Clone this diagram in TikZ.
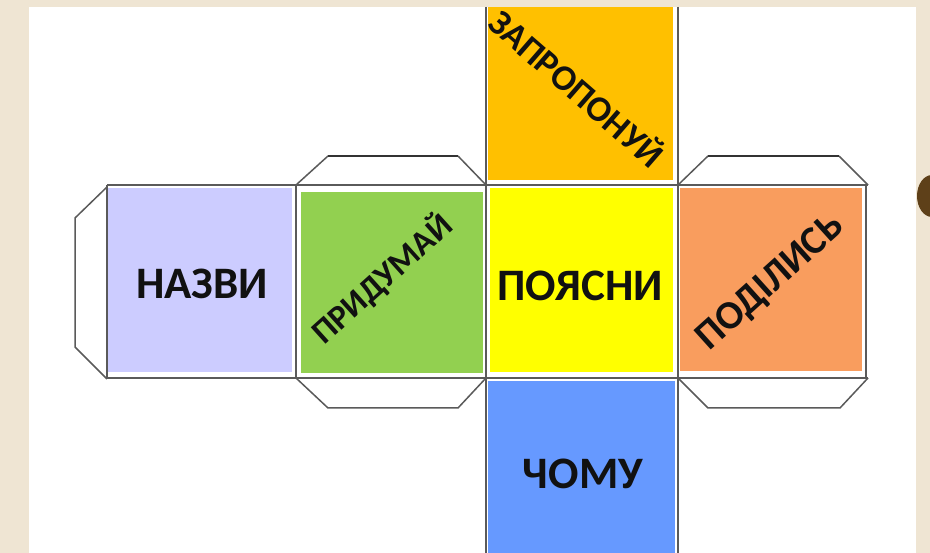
\documentclass[tikz,border=0pt]{standalone}
\usepackage{fontspec}
\setmainfont{Carlito}
\definecolor{bgbeige}{HTML}{EFE5D3}
\definecolor{edgegray}{HTML}{5A5A5A}
\definecolor{tabdark}{HTML}{333333}
\definecolor{clav}{HTML}{CCCCFF}
\definecolor{cgreen}{HTML}{92D050}
\definecolor{corange}{HTML}{FFC000}
\definecolor{cyellow}{HTML}{FFFF00}
\definecolor{csalmon}{HTML}{F99D5E}
\definecolor{cblue}{HTML}{6699FF}
\definecolor{blob}{HTML}{5E4019}
\definecolor{txt}{HTML}{111111}
\tikzset{
  lbl/.style={font=\bfseries\fontsize{45}{45}\selectfont, text=txt, inner sep=0pt},
  dlbl/.style={font=\bfseries\fontsize{34}{34}\selectfont, text=txt, inner sep=0pt},
  grid/.style={draw=edgegray, line width=1.9pt},
  tabline/.style={draw=edgegray, line width=1.5pt, line join=round},
  tabtop/.style={draw=tabdark, line width=2.4pt}
}
\begin{document}
\begin{tikzpicture}[x=1pt,y=-1pt]
\path[use as bounding box] (0,0) rectangle (930,553);
% background
\fill[bgbeige] (0,0) rectangle (930,553);
\fill[blob] (932,196) ellipse[x radius=15, y radius=21];
\fill[white] (29,7) rectangle (916,553);
% face fills
\fill[clav]    (108,188) rectangle (292,372);
\fill[cgreen]  (301,192) rectangle (483,373);
\fill[corange] (488,7)   rectangle (673,180);
\fill[cyellow] (490,188) rectangle (673,372);
\fill[csalmon] (680,188) rectangle (862,371);
\fill[cblue]   (488,381) rectangle (675,553);
% tabs
\draw[tabline] (107,187) -- (75,218) -- (75,347) -- (107,379);
\draw[tabline] (296,185) -- (328,156);
\draw[tabline] (458,156) -- (486,185);
\draw[tabtop]  (328,156) -- (458,156);
\draw[tabline] (296,378) -- (328,408) -- (458,408) -- (486,378);
\draw[tabline] (678,185) -- (708,156);
\draw[tabline] (839,156) -- (868,185);
\draw[tabtop]  (708,156) -- (839,156);
\draw[tabline] (678,378) -- (708,408) -- (840,408) -- (868,378);
% grid lines
\draw[grid] (107,185) -- (868,185);
\draw[grid] (107,378) -- (868,378);
\draw[grid] (107,185) -- (107,379);
\draw[grid] (296,185) -- (296,378);
\draw[grid] (866,185) -- (866,378);
\draw[grid] (486,7) -- (486,553);
\draw[grid] (678,7) -- (678,553);
% labels
\node[lbl] (nazvy) at (202,284) {НАЗВИ};
\node[lbl] (poyasny) at (580,286) {ПОЯСНИ};
\node[lbl] (chomu) at (583,474) {ЧОМУ};
\node[dlbl, rotate=42] (prydumai) at (382,279) {ПРИДУМАЙ};
\node[dlbl, rotate=42, font=\bfseries\fontsize{40}{40}\selectfont] (podilys) at (771,283) {ПОДІЛИСЬ};
\node[dlbl, rotate=-41, font=\bfseries\fontsize{36}{36}\selectfont] (zaproponui) at (578,87) {ЗАПРОПОНУЙ};
\end{tikzpicture}
\end{document}
